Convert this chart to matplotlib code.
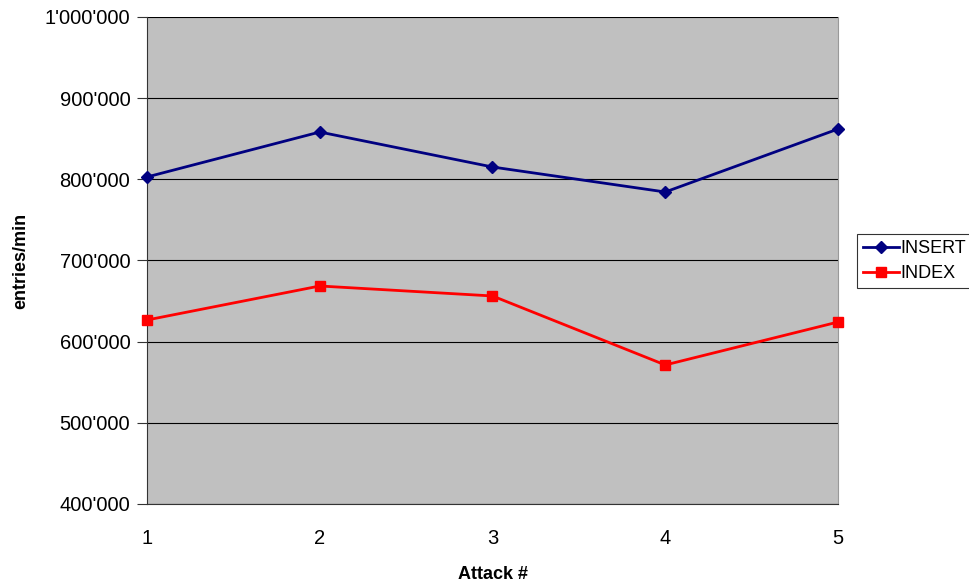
import matplotlib
matplotlib.use("Agg")
import matplotlib.pyplot as plt
from matplotlib.ticker import FuncFormatter

plt.rcParams['font.family'] = ['Liberation Sans', 'DejaVu Sans']

attacks = [1, 2, 3, 4, 5]
insert_vals = [802900, 858300, 815200, 784400, 862000]
index_vals = [626700, 668600, 656300, 571300, 624200]
y_ticks = [400000, 500000, 600000, 700000, 800000, 900000, 1000000]


def swiss(v, pos):
    return f"{int(v):,}".replace(",", "'")


fig = plt.figure(figsize=(9.7, 5.83), dpi=100)
ax = fig.add_axes([147 / 970, 79 / 583, 691 / 970, 487 / 583])
ax.set_facecolor('#c0c0c0')

ax.plot(attacks, insert_vals, color='#000080', lw=2, marker='D', ms=6,
        label='INSERT', clip_on=False, zorder=3)
ax.plot(attacks, index_vals, color='#ff0000', lw=2, marker='s', ms=7,
        label='INDEX', clip_on=False, zorder=3)

ax.set_xlim(1, 5)
ax.set_ylim(400000, 1000000)
ax.set_xticks(attacks)
ax.set_yticks(y_ticks)
ax.yaxis.set_major_formatter(FuncFormatter(swiss))
ax.yaxis.grid(True, color='black', lw=0.8)
ax.set_axisbelow(True)

ax.spines['top'].set_visible(False)
ax.spines['right'].set_color('#999999')
ax.spines['left'].set_color('#333333')
ax.spines['bottom'].set_color('#333333')
ax.tick_params(axis='both', labelsize=14.5, direction='out', color='#333333')
ax.tick_params(axis='y', length=7, pad=5)
ax.tick_params(axis='x', length=0, pad=18)

ax.set_xlabel('Attack #', fontsize=13, fontweight='bold', labelpad=13)
ax.set_ylabel('entries/min', fontsize=13, fontweight='bold', labelpad=11)

leg = ax.legend(loc='center left', bbox_to_anchor=(1.027, 0.499), fontsize=13,
                frameon=True, fancybox=False, edgecolor='black',
                borderpad=0.35, handlelength=2.0, handletextpad=0.05,
                labelspacing=0.45, borderaxespad=0)
leg.get_frame().set_linewidth(0.8)

fig.savefig('out.png', dpi=100)
